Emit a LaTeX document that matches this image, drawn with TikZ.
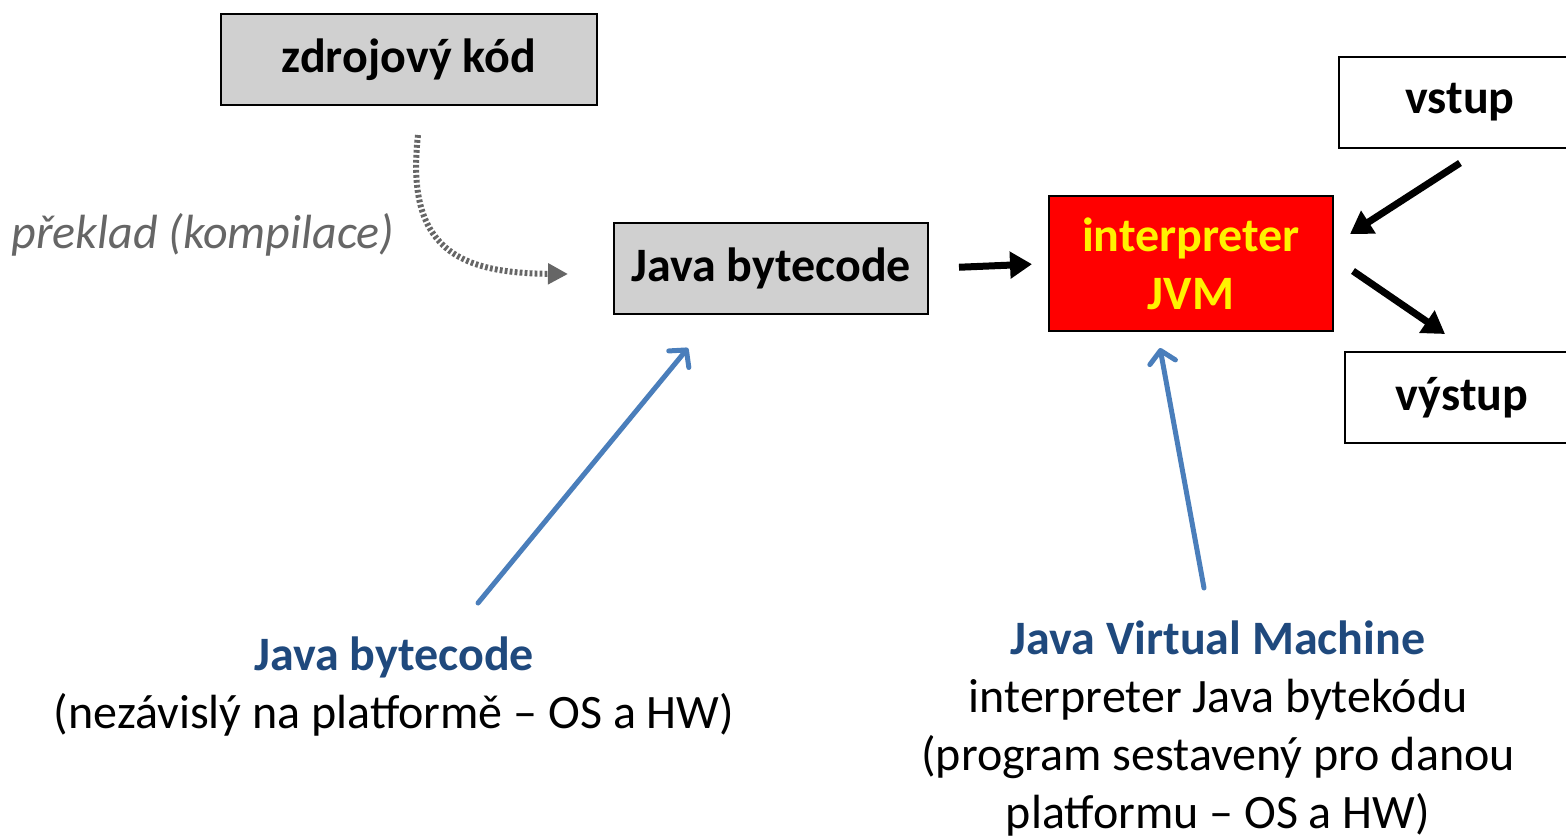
\documentclass[tikz,border=0pt]{standalone}
\usepackage{fontspec}
\setmainfont{Carlito}
\usetikzlibrary{arrows.meta}

\definecolor{boxgray}{RGB}{208,208,208}
\definecolor{notegray}{RGB}{102,102,102}
\definecolor{arrowblue}{RGB}{74,126,187}
\definecolor{textblue}{RGB}{31,73,125}

\tikzset{
  box/.style={draw=black, line width=1pt, minimum height=45.5pt, font=\bfseries},
  flow/.style={black, line width=3.5pt, -{Triangle[length=11pt,width=13pt]}},
  pointer/.style={arrowblue, line width=2.5pt, line cap=round, -{Straight Barb[length=6pt,width=13pt,round]}},
}

\begin{document}
\begin{tikzpicture}[x=0.5pt,y=-0.5pt]
\fontsize{24pt}{29pt}\selectfont
\useasboundingbox (0,0) rectangle (1566,837);

\node[box, fill=boxgray, minimum width=188pt] (src) at (409,59.5) {zdrojový kód};
\node[box, fill=boxgray, minimum width=157pt] (byte) at (771,268.5) {Java bytecode};
\node[box, fill=red, text=yellow, minimum width=142pt, minimum height=67.5pt, align=center] (jvm) at (1191,263.5) {interpreter\\JVM};
\node[box, fill=white, minimum width=121pt] (in) at (1460,102) {vstup};
\node[box, fill=white, minimum width=117pt] (out) at (1462,397.5) {výstup};

\node[text=notegray, font=\itshape] (note) at (203,235) {překlad (kompilace)};

\node[align=center] (bytetext) at (394,687) {\textcolor{textblue}{\bfseries Java bytecode}\\(nezávislý na platformě – OS a HW)};
\node[align=center] (jvmtext) at (1218,729) {\textcolor{textblue}{\bfseries Java Virtual Machine}\\interpreter Java bytekódu\\(program sestavený pro danou\\platformu – OS a HW)};

% free ends of the arrows
\coordinate (compstart) at (418,135);
\coordinate (compend) at (568,274);
\coordinate (instart) at (1460,163);
\coordinate (inend) at (1350,234);
\coordinate (outstart) at (1353,271);
\coordinate (outend) at (1445,334);
\coordinate (bytefoot) at (478,603);
\coordinate (bytehead) at (688,348);
\coordinate (jvmfoot) at (1204,588);
\coordinate (jvmhead) at (1160,348);

% compile step
\draw[notegray, line width=3pt, dash pattern=on 1.4pt off 1.1pt, -{Triangle[length=10pt,width=10pt]}]
  (compstart) .. controls (405,250) and (460,273) .. (compend);

\draw[flow, shorten <=15pt, shorten >=8pt] (byte.east) -- (jvm.west);
\draw[flow] (instart) -- (inend);
\draw[flow] (outstart) -- (outend);

\draw[pointer] (bytefoot) -- (bytehead);
\draw[pointer] (jvmfoot) -- (jvmhead);
\end{tikzpicture}
\end{document}
